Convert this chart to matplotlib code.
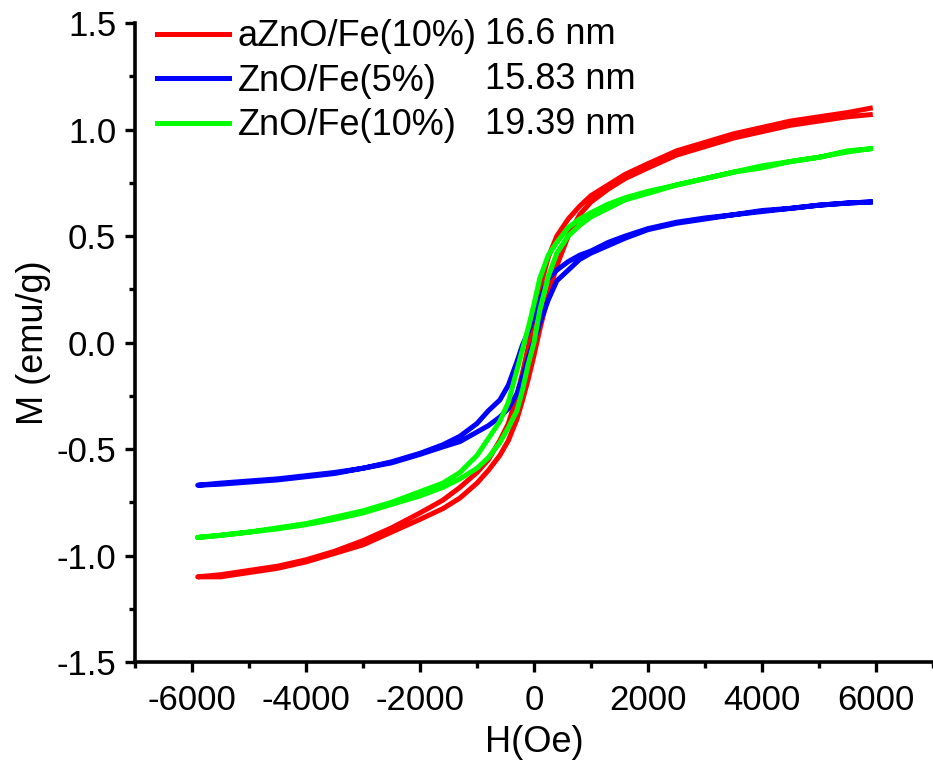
import numpy as np
import matplotlib
matplotlib.use("Agg")
import matplotlib.pyplot as plt
from matplotlib.ticker import MultipleLocator

plt.rcParams.update({"font.family": ["Liberation Sans", "DejaVu Sans"],
                     "axes.unicode_minus": False})

# field grid (Oe), descending from +H to -H
H = [5900, 5500, 5000, 4500, 4000, 3500, 3000, 2500, 2000, 1600, 1300, 1000, 800, 600,
     400, 250, 100, 0, -100, -200, -300, -450, -600, -800, -1000, -1300, -1600, -2000,
     -2500, -3000, -3500, -4000, -4500, -5000, -5500, -5900]

# aZnO/Fe(10%)  -- descending (upper) and ascending (lower) branches, M at each H above
red_up = [1.10, 1.08, 1.06, 1.04, 1.01, 0.98, 0.94, 0.90, 0.84, 0.79, 0.74, 0.69, 0.64, 0.58,
          0.50, 0.40, 0.25, 0.12, -0.02, -0.14, -0.25, -0.38, -0.46, -0.55, -0.61, -0.68, -0.74, -0.80,
          -0.87, -0.93, -0.98, -1.02, -1.05, -1.07, -1.09, -1.10]
red_lo = [1.07, 1.06, 1.04, 1.02, 0.99, 0.96, 0.92, 0.88, 0.82, 0.77, 0.72, 0.66, 0.60, 0.50,
          0.36, 0.22, 0.06, -0.06, -0.17, -0.27, -0.36, -0.46, -0.53, -0.60, -0.66, -0.73, -0.78, -0.83,
          -0.89, -0.95, -0.99, -1.03, -1.06, -1.08, -1.10, -1.10]

# ZnO/Fe(5%)
blue_up = [0.66, 0.655, 0.645, 0.63, 0.62, 0.60, 0.585, 0.565, 0.535, 0.50, 0.47, 0.43, 0.41, 0.38,
           0.34, 0.30, 0.20, 0.12, 0.05, -0.01, -0.09, -0.20, -0.27, -0.32, -0.38, -0.44, -0.48, -0.52,
           -0.56, -0.59, -0.61, -0.625, -0.64, -0.65, -0.66, -0.67]
blue_lo = [0.66, 0.655, 0.645, 0.63, 0.615, 0.60, 0.58, 0.56, 0.53, 0.49, 0.455, 0.42, 0.39, 0.34,
           0.29, 0.20, 0.09, 0.01, -0.07, -0.16, -0.24, -0.31, -0.35, -0.39, -0.42, -0.465, -0.49, -0.525,
           -0.565, -0.59, -0.615, -0.63, -0.645, -0.655, -0.665, -0.67]

# ZnO/Fe(10%)
green_up = [0.91, 0.90, 0.87, 0.85, 0.82, 0.80, 0.77, 0.74, 0.71, 0.68, 0.65, 0.61, 0.58, 0.54,
            0.47, 0.41, 0.30, 0.18, 0.07, -0.03, -0.13, -0.28, -0.37, -0.45, -0.53, -0.61, -0.66, -0.70,
            -0.75, -0.79, -0.82, -0.85, -0.87, -0.89, -0.905, -0.915]
green_lo = [0.91, 0.895, 0.87, 0.85, 0.83, 0.80, 0.77, 0.74, 0.70, 0.67, 0.63, 0.59, 0.55, 0.50,
            0.42, 0.31, 0.15, 0.0, -0.10, -0.22, -0.32, -0.40, -0.47, -0.54, -0.59, -0.64, -0.68, -0.72,
            -0.76, -0.80, -0.83, -0.855, -0.875, -0.89, -0.905, -0.915]

names = ["aZnO/Fe(10%)", "ZnO/Fe(5%)", "ZnO/Fe(10%)"]
sizes = ["16.6 nm", "15.83 nm", "19.39 nm"]
colors = ["#ff0000", "#0000ff", "#00ff00"]

fig = plt.figure(figsize=(9.33, 7.69), dpi=100)
ax = fig.add_axes([0.1447, 0.1391, 0.8553, 0.8309])

loops = [(red_up, red_lo), (blue_up, blue_lo), (green_up, green_lo)]
Hr = H[::-1]
for (up, lo), c, nm in zip(loops, colors, names):
    # descending branch then ascending branch back
    x = list(H) + Hr
    y = list(up) + lo[::-1]
    ax.plot(x, y, color=c, lw=3.6, label=nm, solid_joinstyle="round")

ax.set_xlim(-7000, 7000)
ax.set_ylim(-1.5, 1.5)
ax.xaxis.set_major_locator(MultipleLocator(2000))
ax.xaxis.set_minor_locator(MultipleLocator(1000))
ax.yaxis.set_major_locator(MultipleLocator(0.5))
ax.yaxis.set_minor_locator(MultipleLocator(0.25))
ax.yaxis.set_major_formatter(plt.FormatStrFormatter("%.1f"))
for s in ["top", "right"]:
    ax.spines[s].set_visible(False)
for s in ["left", "bottom"]:
    ax.spines[s].set_linewidth(2.6)
ax.tick_params(which="major", direction="out", length=7.5, width=2.4, labelsize=25, pad=6)
ax.tick_params(axis="x", which="major", pad=8)
ax.tick_params(which="minor", direction="out", length=4.5, width=2.4)
ax.set_xlabel("H(Oe)", fontsize=26, labelpad=6)
ax.set_ylabel("M (emu/g)", fontsize=26, labelpad=4)

leg = ax.legend(loc="upper left", bbox_to_anchor=(0.019, 1.017), frameon=False,
                fontsize=26, handlelength=1.97, handletextpad=0.25, labelspacing=0.26,
                borderaxespad=0.0, borderpad=0.2)
for ln in leg.get_lines():
    ln.set_linewidth(3.6)

for i, s in enumerate(sizes):
    fig.text(485 / 933, 1 - (35 + 44.5 * i) / 769, s, fontsize=26, va="center", ha="left")

fig.savefig("out.png", dpi=100)
